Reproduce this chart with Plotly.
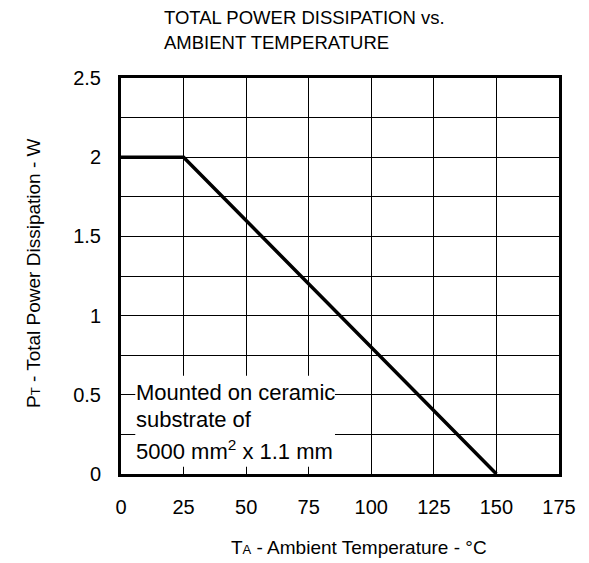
import plotly.graph_objects as go

# Data
temp_c = [0, 25, 150]
power_w = [2, 2, 0]
x_ticks = [0, 25, 50, 75, 100, 125, 150, 175]
y_ticks = [0, 0.5, 1, 1.5, 2, 2.5]
y_tick_text = ["0", "0.5", "1", "1.5", "2", "2.5"]
title_lines = ["TOTAL POWER DISSIPATION vs.", "AMBIENT TEMPERATURE"]
note_lines = ["Mounted on ceramic", "substrate of", "5000 mm<sup>2</sup> x 1.1 mm"]

FONT = "Arial, Liberation Sans, sans-serif"

# page body has an 8px margin: compensate so the plot area lands at page px 121..559 x 78..474
OFF = 8
PL, PR, PT, PB = 121, 559, 78, 474
PW, PH = PR - PL, PB - PT

fig = go.Figure()
fig.add_trace(go.Scatter(x=temp_c, y=power_w, mode="lines",
                         line=dict(color="black", width=3.5), hoverinfo="skip"))

fig.update_layout(
    width=589 - OFF, height=563 - OFF,
    margin=dict(l=PL - OFF, r=589 - PR, t=PT - OFF, b=563 - PB),
    paper_bgcolor="white", plot_bgcolor="white",
    showlegend=False,
    font=dict(family=FONT, size=20, color="black"),
)
fig.update_xaxes(
    range=[0, 175], tickvals=x_ticks, ticktext=[str(v) for v in x_ticks],
    showgrid=True, gridcolor="black", gridwidth=1,
    showline=True, linecolor="black", linewidth=3, mirror=True,
    ticks="outside", ticklen=13, tickcolor="rgba(0,0,0,0)",
    zeroline=False, tickfont=dict(size=20, family=FONT, color="black"),
)
fig.update_yaxes(
    range=[0, 2.5], tickvals=y_ticks, ticktext=y_tick_text,
    showgrid=True, gridcolor="black", gridwidth=1,
    minor=dict(dtick=0.25, showgrid=True, gridcolor="black", gridwidth=1, ticks=""),
    showline=True, linecolor="black", linewidth=3, mirror=True,
    ticks="outside", ticklen=13, tickcolor="rgba(0,0,0,0)",
    zeroline=False, tickfont=dict(size=20, family=FONT, color="black"),
)

# white box behind the note (above grid)
fig.add_shape(type="rect", xref="x", yref="y", x0=5.7, x1=85.5, y0=0.045, y1=0.62,
              fillcolor="white", line=dict(width=0), layer="above")

# note text lines
note_y = [392, 419, 450]
for txt, py in zip(note_lines, note_y):
    fig.add_annotation(text=txt, xref="x", yref="paper", x=5.2,
                       y=(PB - py) / PH, xanchor="left", yanchor="middle",
                       showarrow=False, font=dict(size=22, family=FONT, color="black"))

# title lines
for txt, py in zip(title_lines, [17, 42]):
    fig.add_annotation(text=txt, xref="paper", yref="paper",
                       x=(162 - PL) / PW, y=1 + (PT - py) / PH,
                       xanchor="left", yanchor="middle", showarrow=False,
                       font=dict(size=18.5, family=FONT, color="black"))

# axis titles
fig.add_annotation(text='T<span style="font-size:13px">A</span> - Ambient Temperature - °C',
                   xref="paper", yref="paper", x=(359 - PL) / PW, y=(PB - 547) / PH,
                   xanchor="center", yanchor="middle", showarrow=False,
                   font=dict(size=19, family=FONT, color="black"))
fig.add_annotation(text='P<span style="font-size:13px">T</span> - Total Power Dissipation - W',
                   xref="paper", yref="paper", x=(33 - PL) / PW, y=(PB - 273) / PH,
                   xanchor="center", yanchor="middle", textangle=-90, showarrow=False,
                   font=dict(size=19, family=FONT, color="black"))

fig.write_html("out.html")
